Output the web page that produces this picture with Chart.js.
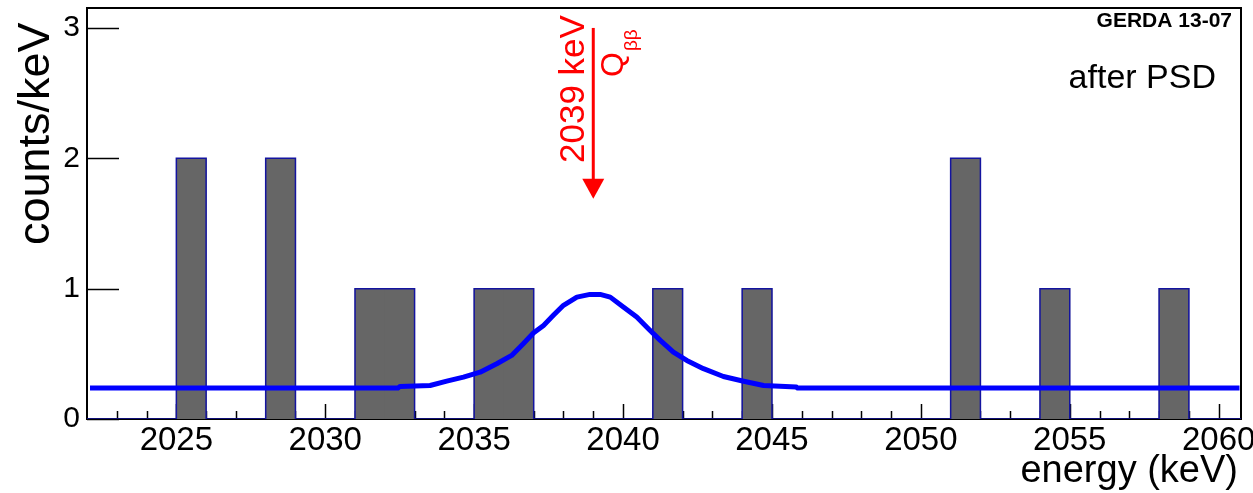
<!DOCTYPE html>
<html>
<head>
<meta charset="utf-8">
<script src="https://cdn.jsdelivr.net/npm/chart.js@4.4.1/dist/chart.umd.min.js"></script>
<style>
  html, body { margin: 0; padding: 0; background: #ffffff; }
  canvas { display: block; }
</style>
</head>
<body>
<canvas id="c" width="1253" height="493"></canvas>
<script>
// ---------------- data ----------------
const binLow    = [2025, 2028, 2031, 2032, 2035, 2036, 2041, 2044, 2051, 2054, 2058];
const binCounts = [2, 2, 1, 1, 1, 1, 1, 1, 2, 1, 1];
const binWidth  = 1;

// fitted curve (background + gaussian at Qbb)
const curveE = [2022.1, 2032.44, 2032.51, 2033.52, 2034.08, 2034.64, 2035.20, 2035.76, 2036.26, 2036.65,
                2036.99, 2037.33, 2037.66, 2038.00, 2038.45, 2038.89, 2039.23, 2039.57, 2040.01, 2040.46,
                2040.85, 2041.25, 2041.69, 2042.14, 2042.70, 2043.37, 2044.05, 2044.72, 2045.82, 2045.85, 2060.7];
const curveV = [0.237, 0.237, 0.250, 0.257, 0.290, 0.321, 0.359, 0.424, 0.488, 0.578,
                0.659, 0.718, 0.795, 0.872, 0.935, 0.956, 0.956, 0.935, 0.859, 0.782,
                0.693, 0.603, 0.513, 0.449, 0.386, 0.326, 0.290, 0.257, 0.246, 0.237, 0.237];

const xTickLabels = [2025, 2030, 2035, 2040, 2045, 2050, 2055, 2060];
const yTickLabels = [0, 1, 2, 3];
const xRange = [2022, 2060.75];
const yRange = [0, 3.153];

const qbbEnergy = 2039;
const arrowFrom = 3.0;
const arrowTo   = 1.69;

const FONT = '"Liberation Sans", Arial, Helvetica, sans-serif';

// ---------------- derived datasets ----------------
const barData = binLow.map((lo, i) => ({ x: lo + binWidth / 2, y: binCounts[i] }));
const outline = [{ x: xRange[0], y: 0 }];
binLow.forEach((lo, i) => {
  outline.push({ x: lo, y: binCounts[i] });
  if (binLow[i + 1] !== lo + binWidth) outline.push({ x: lo + binWidth, y: 0 });
});
outline.push({ x: xRange[1], y: 0 });
const curveData = curveE.map((e, i) => ({ x: e, y: curveV[i] }));

// ---------------- plugins ----------------
const framePlugin = {
  id: 'frameTicks',
  beforeDatasetsDraw(chart) {
    const { ctx, chartArea: a, scales: { x, y } } = chart;
    ctx.save();
    ctx.strokeStyle = '#000';
    ctx.lineWidth = 1.5;
    // x ticks every keV, longer every 5 keV
    for (let e = Math.ceil(xRange[0]) + 1; e <= Math.floor(xRange[1]); e++) {
      const px = Math.round(x.getPixelForValue(e)) + 0.5;
      const len = (e % 5 === 0) ? 15 : 8;
      ctx.beginPath();
      ctx.moveTo(px, a.bottom);
      ctx.lineTo(px, a.bottom - len);
      ctx.stroke();
    }
    // y ticks
    yTickLabels.forEach(v => {
      const py = Math.round(y.getPixelForValue(v)) + 0.5;
      ctx.beginPath();
      ctx.moveTo(a.left, py);
      ctx.lineTo(a.left + 32, py);
      ctx.stroke();
    });
    // frame
    ctx.lineWidth = 2;
    ctx.strokeRect(a.left, a.top, a.right - a.left, a.bottom - a.top);
    ctx.restore();
  },
  afterDatasetsDraw(chart) {
    const { ctx, scales: { x, y } } = chart;
    ctx.save();
    // Qbb arrow
    const ax = x.getPixelForValue(qbbEnergy);
    const y0 = y.getPixelForValue(arrowFrom);
    const y1 = y.getPixelForValue(arrowTo);
    ctx.strokeStyle = '#ff0000';
    ctx.fillStyle = '#ff0000';
    ctx.lineWidth = 3;
    ctx.beginPath();
    ctx.moveTo(ax, y0);
    ctx.lineTo(ax, y1 - 18);
    ctx.stroke();
    ctx.beginPath();
    ctx.moveTo(ax - 11, y1 - 20);
    ctx.lineTo(ax + 11, y1 - 20);
    ctx.lineTo(ax, y1);
    ctx.closePath();
    ctx.fill();

    // rotated red labels
    ctx.save();
    ctx.translate(ax - 9, 163);
    ctx.rotate(-Math.PI / 2);
    ctx.font = '35px ' + FONT;
    ctx.textAlign = 'left';
    ctx.textBaseline = 'alphabetic';
    ctx.fillText('2039 keV', 0, 0);
    ctx.restore();

    ctx.save();
    ctx.translate(ax + 30, 77);
    ctx.rotate(-Math.PI / 2);
    ctx.font = '32px ' + FONT;
    ctx.textBaseline = 'alphabetic';
    ctx.fillText('Q', 0, 0);
    const qw = ctx.measureText('Q').width;
    ctx.font = '19px ' + FONT;
    ctx.fillText('\u03B2\u03B2', qw + 1, 14);
    ctx.restore();

    // axis titles and labels
    ctx.fillStyle = '#000';
    ctx.save();
    ctx.translate(49, 245);
    ctx.rotate(-Math.PI / 2);
    ctx.font = '45px ' + FONT;
    ctx.textAlign = 'left';
    ctx.fillText('counts/keV', 0, 0);
    ctx.restore();

    ctx.font = '38px ' + FONT;
    ctx.textAlign = 'right';
    ctx.fillText('energy (keV)', 1238, 482);

    ctx.font = 'bold 21px ' + FONT;
    ctx.fillText('GERDA 13-07', 1232, 27);

    ctx.font = '34px ' + FONT;
    ctx.fillText('after PSD', 1216, 88);
    ctx.restore();
  }
};

// ---------------- chart ----------------
new Chart(document.getElementById('c'), {
  type: 'bar',
  data: {
    datasets: [
      {
        type: 'line',
        data: curveData,
        borderColor: '#0000ff',
        borderWidth: 5,
        pointRadius: 0,
        tension: 0,
        fill: false,
        borderJoinStyle: 'round',
        order: 1
      },
      {
        type: 'line',
        data: outline,
        stepped: 'before',
        borderColor: '#1414a0',
        borderWidth: 1.5,
        pointRadius: 0,
        fill: false,
        order: 2
      },
      {
        type: 'bar',
        data: barData,
        backgroundColor: '#666666',
        borderWidth: 0,
        barPercentage: 1,
        categoryPercentage: 1,
        grouped: false,
        order: 3
      }
    ]
  },
  options: {
    responsive: false,
    animation: false,
    devicePixelRatio: 1,
    layout: { padding: { top: 8, right: 12, left: 0, bottom: 0 } },
    plugins: { legend: { display: false }, tooltip: { enabled: false }, title: { display: false } },
    scales: {
      x: {
        type: 'linear',
        min: xRange[0],
        max: xRange[1],
        offset: false,
        grid: { display: false, drawTicks: false },
        border: { display: false },
        afterBuildTicks: s => { s.ticks = xTickLabels.map(v => ({ value: v })); },
        afterFit: s => { s.height = 74; s.paddingLeft = 0; s.paddingRight = 0; },
        ticks: {
          autoSkip: false, maxRotation: 0, minRotation: 0,
          color: '#000', padding: 2,
          font: { family: FONT, size: 33 },
          callback: v => String(v)
        }
      },
      y: {
        min: yRange[0],
        max: yRange[1],
        grid: { display: false, drawTicks: false },
        border: { display: false },
        afterBuildTicks: s => { s.ticks = yTickLabels.map(v => ({ value: v })); },
        afterFit: s => { s.width = 87; s.paddingTop = 0; s.paddingBottom = 0; },
        ticks: {
          color: '#000', padding: 7,
          font: { family: FONT, size: 30 },
          callback: v => String(v)
        }
      }
    }
  },
  plugins: [framePlugin]
});
</script>
</body>
</html>
